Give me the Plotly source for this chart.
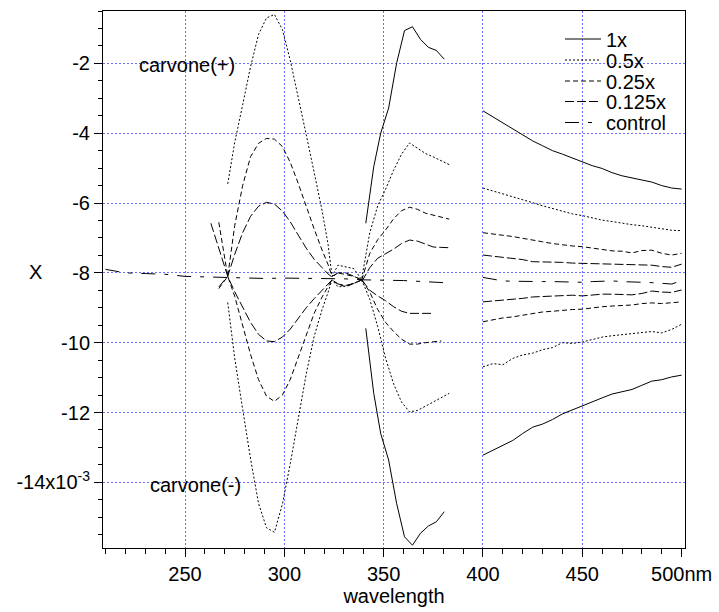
import plotly.graph_objects as go

# ---------------- data (values in units of 1e-3) ----------------
# UV segment (first measurement window)
W_UV = [263, 267, 271.5, 275, 279, 283, 287, 291, 295, 299, 303, 307, 311, 315, 319, 322, 324, 327, 331, 335, 339]
P05_UV = [None, None, -5.45, -4.27, -3.19, -2.09, -1.17, -0.70, -0.60, -1.03, -1.92, -2.95, -4.04, -5.12, -6.22, -7.18, -8.10, -7.78, -7.82, -7.88, -8.20]
N05_UV = [None, None, -8.85, -10.44, -11.90, -13.33, -14.60, -15.30, -15.43, -14.63, -13.46, -12.21, -10.90, -9.82, -9.05, -8.56, -8.20, -8.40, -8.38, -8.30, -8.20]
P025_UV = [None, -8.45, -8.10, -6.65, -5.50, -4.67, -4.29, -4.15, -4.17, -4.38, -4.84, -5.44, -6.10, -6.74, -7.35, -7.76, -8.10, -8.00, -8.05, -8.10, -8.20]
N025_UV = [None, -6.55, -8.10, -8.67, -9.52, -10.34, -11.06, -11.53, -11.68, -11.50, -11.05, -10.42, -9.78, -9.16, -8.69, -8.42, -8.20, -8.32, -8.40, -8.30, -8.20]
P0125_UV = [None, -8.40, -8.10, -7.47, -6.85, -6.38, -6.09, -5.98, -6.03, -6.23, -6.54, -6.92, -7.29, -7.61, -7.86, -8.03, -8.12, -8.00, -8.00, -8.10, -8.20]
N0125_UV = [-6.58, -7.30, -8.10, -8.54, -9.00, -9.42, -9.76, -9.95, -9.97, -9.84, -9.61, -9.31, -9.00, -8.74, -8.50, -8.33, -8.20, -8.32, -8.36, -8.30, -8.20]

# second window (about 340-383 nm)
W_V1 = [339, 343, 347, 351, 355, 359, 363, 367, 371, 375, 379, 383]
P05_V1 = [-8.15, -6.85, -6.08, -5.60, -5.06, -4.60, -4.28, -4.42, -4.58, -4.68, -4.78, -4.90]
N05_V1 = [-8.20, -8.76, -9.54, -10.45, -11.18, -11.70, -11.98, -11.94, -11.82, -11.70, -11.58, -11.45]
P025_V1 = [-8.20, -7.44, -7.05, -6.77, -6.45, -6.22, -6.12, -6.18, -6.29, -6.34, -6.40, -6.46]
N025_V1 = [-8.20, -8.55, -9.05, -9.42, -9.68, -9.90, -10.04, -10.04, -10.00, -9.97, -9.95, None]
P0125_V1 = [-8.25, -7.85, -7.58, -7.46, -7.32, -7.16, -7.06, -7.09, -7.18, -7.26, -7.27, -7.28]
N0125_V1 = [-8.20, -8.50, -8.66, -8.80, -8.97, -9.10, -9.16, -9.16, -9.16, -9.16, None, None]

W_1X = [341, 345, 348.5, 352.5, 356.5, 360.5, 364.5, 368.5, 372.5, 376.5, 380.5]
P1_V1 = [-6.58, -4.96, -4.00, -3.28, -2.00, -1.06, -0.95, -1.31, -1.54, -1.63, -1.88]
N1_V1 = [-9.59, -11.45, -12.60, -13.36, -14.60, -15.56, -15.80, -15.46, -15.25, -15.13, -14.84]

# visible window (400-500 nm)
W_V2 = [400, 405, 410, 415, 420, 425, 430, 435, 440, 445, 450, 455, 460, 465, 470, 475, 480, 485, 490, 495, 500]
P1_V2 = [-3.36, -3.53, -3.71, -3.87, -4.04, -4.22, -4.36, -4.50, -4.60, -4.71, -4.84, -4.93, -5.01, -5.13, -5.22, -5.28, -5.34, -5.40, -5.50, -5.57, -5.60]
P05_V2 = [-5.57, -5.65, -5.74, -5.82, -5.90, -5.99, -6.08, -6.16, -6.25, -6.31, -6.36, -6.43, -6.49, -6.53, -6.58, -6.62, -6.65, -6.69, -6.74, -6.78, -6.79]
P025_V2 = [-6.85, -6.88, -6.92, -6.96, -7.01, -7.07, -7.11, -7.16, -7.20, -7.23, -7.25, -7.29, -7.33, -7.37, -7.38, -7.43, -7.36, -7.35, -7.44, -7.49, -7.44]
P0125_V2 = [-7.49, -7.52, -7.54, -7.57, -7.62, -7.68, -7.68, -7.68, -7.70, -7.72, -7.73, -7.74, -7.75, -7.76, -7.77, -7.78, -7.78, -7.78, -7.82, -7.84, -7.75]
N0125_V2 = [-8.83, -8.81, -8.79, -8.77, -8.73, -8.69, -8.68, -8.68, -8.65, -8.64, -8.66, -8.63, -8.61, -8.61, -8.61, -8.63, -8.59, -8.52, -8.55, -8.56, -8.49]
N025_V2 = [-9.40, -9.34, -9.29, -9.26, -9.21, -9.16, -9.12, -9.10, -9.07, -9.05, -9.04, -9.00, -8.97, -8.95, -8.94, -8.92, -8.88, -8.86, -8.88, -8.86, -8.83]
N05_V2 = [-10.69, -10.60, -10.63, -10.45, -10.35, -10.30, -10.20, -10.14, -10.00, -10.02, -9.98, -9.90, -9.84, -9.80, -9.77, -9.74, -9.70, -9.68, -9.72, -9.62, -9.47]
N1_V2 = [-13.22, -13.08, -12.95, -12.80, -12.60, -12.42, -12.33, -12.20, -12.04, -11.92, -11.80, -11.70, -11.58, -11.47, -11.40, -11.34, -11.22, -11.10, -11.06, -10.98, -10.93]

# control
W_CTL = [210, 220, 230, 240, 250, 260, 270, 280, 290, 300, 310, 320, 330, 340, 350, 360, 370, 380]
CTL_UV = [-7.90, -8.00, -8.02, -8.04, -8.10, -8.12, -8.12, -8.14, -8.16, -8.15, -8.15, -8.15, -8.17, -8.20, -8.20, -8.22, -8.25, -8.28]
CTL_V2 = [-8.13, -8.18, -8.23, -8.24, -8.25, -8.25, -8.25, -8.25, -8.26, -8.27, -8.27, -8.25, -8.24, -8.23, -8.25, -8.27, -8.27, -8.28, -8.30, -8.32, -8.22]

X_TICKS = [250, 300, 350, 400, 450, 500]
X_TICKTEXT = ["250", "300", "350", "400", "450", "500nm"]
X_GRID = [250, 300, 350, 400, 450]
Y_TICKS = [-2, -4, -6, -8, -10, -12, -14]
Y_TICKTEXT = ["-2", "-4", "-6", "-8", "-10", "-12", "-14x10<sup>-3</sup>"]


def join(pieces):
    xs, ys = [], []
    for i, (w, v) in enumerate(pieces):
        if i:
            xs.append(None)
            ys.append(None)
        xs.extend(w)
        ys.extend(v)
    return xs, ys


series = [
    ("1x", "solid", [(W_1X, P1_V1), (W_1X, N1_V1), (W_V2, P1_V2), (W_V2, N1_V2)]),
    ("0.5x", "2px,2px", [(W_UV, P05_UV), (W_UV, N05_UV), (W_V1, P05_V1), (W_V1, N05_V1), (W_V2, P05_V2), (W_V2, N05_V2)]),
    ("0.25x", "5px,3px", [(W_UV, P025_UV), (W_UV, N025_UV), (W_V1, P025_V1), (W_V1, N025_V1), (W_V2, P025_V2), (W_V2, N025_V2)]),
    ("0.125x", "9px,3px", [(W_UV, P0125_UV), (W_UV, N0125_UV), (W_V1, P0125_V1), (W_V1, N0125_V1), (W_V2, P0125_V2), (W_V2, N0125_V2)]),
    ("control", "14px,9px,4px,9px", [(W_CTL, CTL_UV), (W_V2, CTL_V2)]),
]

FONT = "Liberation Sans, Arial, Helvetica, sans-serif"
FS = 20

# layout geometry (pixels)
W, H = 719, 612
L, R, T, B = 103, 34, 11, 64
PH = H - T - B
PW = W - L - R


def py2paper(py):
    return 1 - (py - T) / PH


def px2paper(px):
    return (px - L) / PW


LEG_ROWS = [39, 60, 81, 101.5, 122.5]
LEG_X = px2paper(560)

fig = go.Figure()
for i, (name, dash, pieces) in enumerate(series):
    xs, ys = join(pieces)
    fig.add_trace(go.Scatter(x=xs, y=ys, mode="lines", name=name, connectgaps=False,
                             xaxis="x2" if name == "control" else "x",
                             legend="legend" if i == 0 else f"legend{i + 1}",
                             line=dict(color="black", width=1, dash=dash)))

XR = [208.7, 501.7]
YR = [-15.88, -0.50]
GRID = "rgb(110,110,255)"

legends = {}
for i, row in enumerate(LEG_ROWS):
    key = "legend" if i == 0 else f"legend{i + 1}"
    legends[key] = dict(x=LEG_X, y=py2paper(row), xanchor="left", yanchor="middle",
                        bgcolor="rgba(0,0,0,0)", borderwidth=0,
                        font=dict(size=FS, family=FONT, color="black"), itemwidth=36)

fig.update_layout(
    width=W, height=H,
    margin=dict(l=L, r=R, t=T, b=B),
    paper_bgcolor="white", plot_bgcolor="white",
    font=dict(family=FONT, size=FS, color="black"),
    showlegend=True,
    **legends,
    xaxis=dict(range=XR, tickmode="array", tickvals=X_TICKS, ticktext=X_TICKTEXT,
               showgrid=False, zeroline=False, showline=True, linecolor="black", linewidth=1,
               mirror=True, ticks="outside", ticklen=8, tickcolor="black", automargin=False,
               minor=dict(dtick=10, tick0=0, ticks="outside", ticklen=5, tickcolor="black", showgrid=False),
               title=dict(text="wavelength", standoff=2, font=dict(size=FS)), tickfont=dict(size=FS)),
    xaxis2=dict(range=XR, overlaying="x", anchor="y", side="bottom", tickmode="array", tickvals=X_GRID,
                showgrid=True, gridcolor=GRID, griddash="2px,2px", gridwidth=1, automargin=False,
                showticklabels=False, ticks="", showline=False, zeroline=False),
    yaxis=dict(range=YR, tickmode="array", tickvals=Y_TICKS, ticktext=Y_TICKTEXT,
               showgrid=True, gridcolor=GRID, griddash="2px,2px", gridwidth=1, automargin=False,
               zeroline=False, showline=True, linecolor="black", linewidth=1, mirror=True,
               ticks="outside", ticklen=8, tickcolor="black",
               minor=dict(dtick=0.5, tick0=0, ticks="outside", ticklen=4, tickcolor="black", showgrid=False),
               tickfont=dict(size=FS)),
    annotations=[
        dict(x=px2paper(35), y=py2paper(272), xref="paper", yref="paper", text="X", showarrow=False,
             xanchor="center", yanchor="middle", font=dict(size=FS, family=FONT)),
        dict(x=251, y=-2.05, xref="x", yref="y", text="carvone(+)", showarrow=False,
             font=dict(size=FS, family=FONT)),
        dict(x=255.5, y=-14.08, xref="x", yref="y", text="carvone(-)", showarrow=False,
             font=dict(size=FS, family=FONT)),
    ],
)

fig.write_html("out.html")
